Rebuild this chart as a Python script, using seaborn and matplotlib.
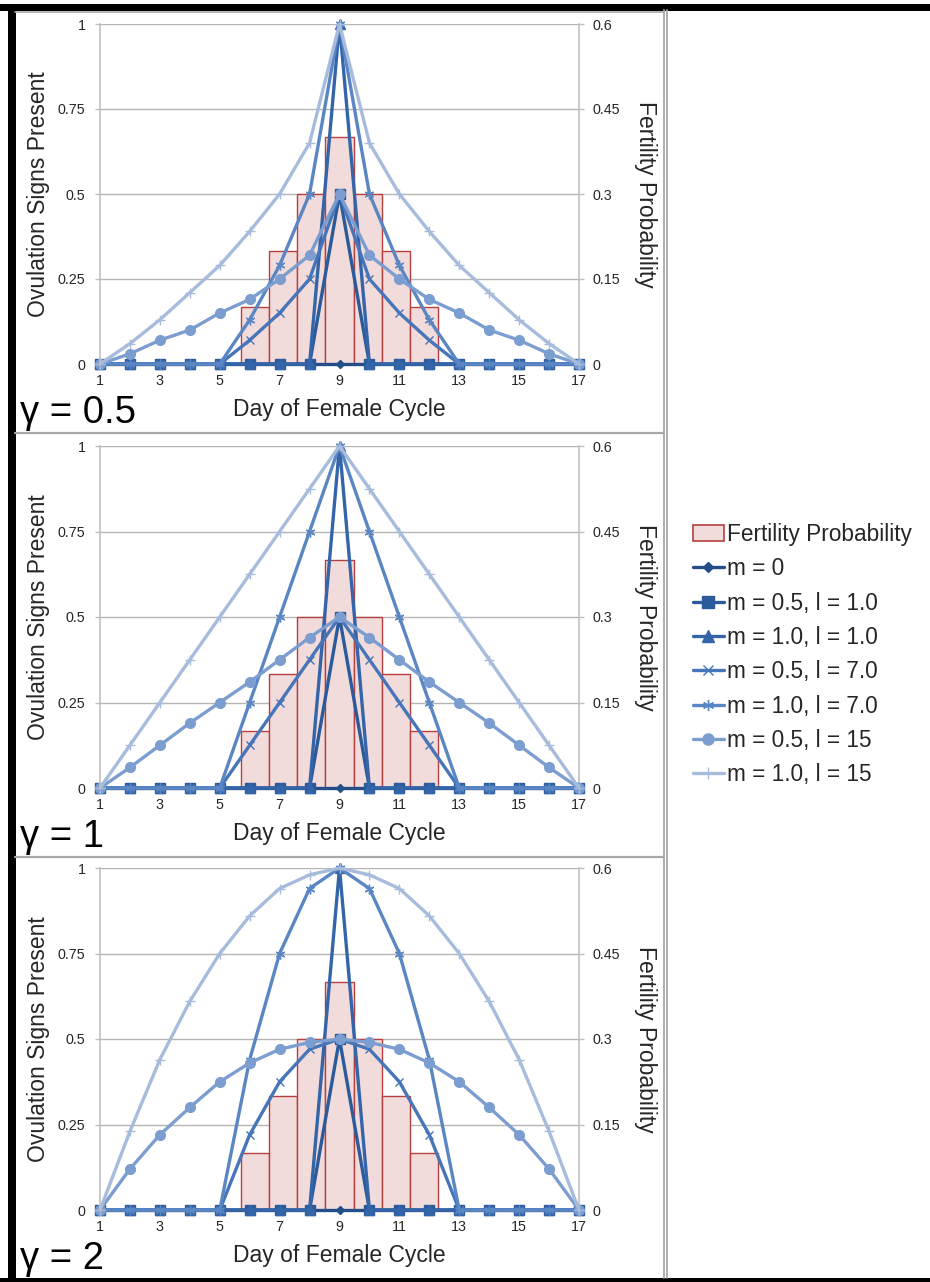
import matplotlib
matplotlib.use("Agg")
import matplotlib.pyplot as plt
import seaborn as sns
from matplotlib.patches import Rectangle, Patch
from matplotlib.lines import Line2D

# ---------------- data ----------------
days = [1, 2, 3, 4, 5, 6, 7, 8, 9, 10, 11, 12, 13, 14, 15, 16, 17]
fertility = [0, 0, 0, 0, 0, 0.1, 0.2, 0.3, 0.4, 0.3, 0.2, 0.1, 0, 0, 0, 0, 0]

series_labels = ["m = 0", "m = 0.5, l = 1.0", "m = 1.0, l = 1.0",
                 "m = 0.5, l = 7.0", "m = 1.0, l = 7.0",
                 "m = 0.5, l = 15", "m = 1.0, l = 15"]
gamma_labels = ["γ = 0.5", "γ = 1", "γ = 2"]

m0 = [0, 0, 0, 0, 0, 0, 0, 0, 0, 0, 0, 0, 0, 0, 0, 0, 0]
m05_l1 = [0, 0, 0, 0, 0, 0, 0, 0, 0.5, 0, 0, 0, 0, 0, 0, 0, 0]
m10_l1 = [0, 0, 0, 0, 0, 0, 0, 0, 1.0, 0, 0, 0, 0, 0, 0, 0, 0]

# gamma = 0.5
g05_m05_l7 = [0, 0, 0, 0, 0, 0.07, 0.15, 0.25, 0.5, 0.25, 0.15, 0.07, 0, 0, 0, 0, 0]
g05_m10_l7 = [0, 0, 0, 0, 0, 0.13, 0.29, 0.5, 1.0, 0.5, 0.29, 0.13, 0, 0, 0, 0, 0]
g05_m05_l15 = [0, 0.03, 0.07, 0.10, 0.15, 0.19, 0.25, 0.32, 0.5, 0.32, 0.25, 0.19, 0.15, 0.10, 0.07, 0.03, 0]
g05_m10_l15 = [0, 0.06, 0.13, 0.21, 0.29, 0.39, 0.5, 0.65, 1.0, 0.65, 0.5, 0.39, 0.29, 0.21, 0.13, 0.06, 0]

# gamma = 1
g1_m05_l7 = [0, 0, 0, 0, 0, 0.125, 0.25, 0.375, 0.5, 0.375, 0.25, 0.125, 0, 0, 0, 0, 0]
g1_m10_l7 = [0, 0, 0, 0, 0, 0.25, 0.5, 0.75, 1.0, 0.75, 0.5, 0.25, 0, 0, 0, 0, 0]
g1_m05_l15 = [0, 0.06, 0.125, 0.19, 0.25, 0.31, 0.375, 0.44, 0.5, 0.44, 0.375, 0.31, 0.25, 0.19, 0.125, 0.06, 0]
g1_m10_l15 = [0, 0.125, 0.25, 0.375, 0.5, 0.625, 0.75, 0.875, 1.0, 0.875, 0.75, 0.625, 0.5, 0.375, 0.25, 0.125, 0]

# gamma = 2
g2_m05_l7 = [0, 0, 0, 0, 0, 0.22, 0.375, 0.47, 0.5, 0.47, 0.375, 0.22, 0, 0, 0, 0, 0]
g2_m10_l7 = [0, 0, 0, 0, 0, 0.44, 0.75, 0.94, 1.0, 0.94, 0.75, 0.44, 0, 0, 0, 0, 0]
g2_m05_l15 = [0, 0.12, 0.22, 0.30, 0.375, 0.43, 0.47, 0.49, 0.5, 0.49, 0.47, 0.43, 0.375, 0.30, 0.22, 0.12, 0]
g2_m10_l15 = [0, 0.23, 0.44, 0.61, 0.75, 0.86, 0.94, 0.98, 1.0, 0.98, 0.94, 0.86, 0.75, 0.61, 0.44, 0.23, 0]

panels = [
    [m0, m05_l1, m10_l1, g05_m05_l7, g05_m10_l7, g05_m05_l15, g05_m10_l15],
    [m0, m05_l1, m10_l1, g1_m05_l7, g1_m10_l7, g1_m05_l15, g1_m10_l15],
    [m0, m05_l1, m10_l1, g2_m05_l7, g2_m10_l7, g2_m05_l15, g2_m10_l15],
]

# ---------------- styles ----------------
colors = ["#244e88", "#2b5b9b", "#3465a8", "#4676b9", "#5a86c4", "#7b9dd0", "#a7bcdc"]
markers = ["D", "s", "^", "x", (6, 2, 0), "o", "+"]
msizes = [4.5, 7, 7, 6, 7, 7, 7]

sns.set_style("white")
plt.rcParams["font.family"] = ["Liberation Sans", "DejaVu Sans"]

W, H = 930, 1282
fig = plt.figure(figsize=(W / 100, H / 100), dpi=100)

def fx(px):
    return px / W

def fy(py):
    return 1 - py / H

left_px, right_px = 100, 579
tops = [24, 446, 868]
bottoms = [364, 788, 1210]
grid_c = "#b5b5b5"
spine_c = "#c0c0c0"
txt_c = "#262626"
tick_fs = 10.3

for i, (series, glabel) in enumerate(zip(panels, gamma_labels)):
    hgt = bottoms[i] - tops[i]
    rect = [fx(left_px), fy(bottoms[i]), fx(right_px - left_px), hgt / H]

    # bar axes (secondary, fertility probability)
    axb = fig.add_axes(rect)
    axb.set_facecolor("none")
    sns.barplot(x=days, y=fertility, ax=axb, width=1.0, color="#f2dbdb",
                edgecolor="#b5403d", linewidth=1.0, saturation=1, errorbar=None,
                zorder=2)
    axb.set_xlim(-0.5, 16.5)
    axb.set_ylim(0, 0.6)
    axb.set_yticks([0, 0.15, 0.3, 0.45, 0.6])
    axb.set_yticklabels(["0", "0.15", "0.3", "0.45", "0.6"])
    axb.yaxis.tick_right()
    axb.yaxis.set_label_position("right")
    axb.set_xticks([])
    axb.set_xlabel("")
    axb.set_axisbelow(True)
    axb.grid(axis="y", color=grid_c, linewidth=1.0)
    axb.grid(axis="x", visible=False)
    for s in ["top", "bottom", "left"]:
        axb.spines[s].set_visible(False)
    axb.spines["right"].set_color(spine_c)
    axb.spines["right"].set_linewidth(1.2)
    axb.tick_params(axis="y", right=True, left=False, length=3.5, width=1,
                    color=spine_c, pad=6, labelsize=tick_fs, labelcolor=txt_c)
    axb.set_ylabel("Fertility Probability", rotation=270, fontsize=16.5,
                   color=txt_c, va="center", ha="center")
    axb.yaxis.set_label_coords((645 - left_px) / (right_px - left_px), 0.5)

    # line axes (primary, ovulation signs)
    axl = fig.add_axes(rect, zorder=3)
    axl.set_facecolor("none")
    for vals, lab, c, mk, ms in zip(series, series_labels, colors, markers, msizes):
        sns.lineplot(x=days, y=vals, ax=axl, color=c, marker=mk, markersize=ms,
                     markeredgecolor=c, markerfacecolor=c, markeredgewidth=1.0,
                     linewidth=2.4, label=lab, clip_on=False, legend=False)
    axl.set_xlim(1, 17)
    axl.set_ylim(0, 1)
    axl.set_xticks([1, 3, 5, 7, 9, 11, 13, 15, 17])
    axl.set_yticks([0, 0.25, 0.5, 0.75, 1])
    axl.set_yticklabels(["0", "0.25", "0.5", "0.75", "1"])
    for s in ["top", "bottom", "right"]:
        axl.spines[s].set_visible(False)
    axl.spines["left"].set_color(spine_c)
    axl.spines["left"].set_linewidth(1.2)
    axl.tick_params(axis="y", left=True, length=3.5, width=1, color=spine_c,
                    pad=7, labelsize=tick_fs, labelcolor=txt_c)
    axl.tick_params(axis="x", bottom=False, length=0, pad=7, labelsize=tick_fs,
                    labelcolor=txt_c)
    axl.grid(False)
    axl.set_xlabel("Day of Female Cycle", fontsize=16.5, color=txt_c)
    axl.xaxis.set_label_coords(0.5, -34 / hgt)
    axl.set_ylabel("Ovulation Signs Present", fontsize=16.5, color=txt_c,
                   va="center", ha="center")
    axl.yaxis.set_label_coords((38 - left_px) / (right_px - left_px), 0.5)

    # gamma annotation
    fig.text(fx(20), fy(bottoms[i] + 59), glabel, fontsize=27.5, color="black",
             ha="left", va="baseline")

# ---------------- legend ----------------
bar_handle = Patch(facecolor="#f2dbdb", edgecolor="#b5403d", linewidth=1.2)
leg_handles = [bar_handle]
for c, mk, ms in zip(colors, markers, msizes):
    leg_handles.append(Line2D([], [], color=c, marker=mk, markersize=ms + 1,
                              markeredgecolor=c, markerfacecolor=c,
                              markeredgewidth=1.0, linewidth=2.4))
leg_labels = ["Fertility Probability"] + series_labels
fig.legend(leg_handles, leg_labels, loc="upper left",
           bbox_to_anchor=(fx(693), fy(523)), frameon=False, fontsize=16.3,
           handlelength=1.35, handletextpad=0.15, labelspacing=0.5,
           borderpad=0, borderaxespad=0, labelcolor=txt_c)

# ---------------- frame decorations ----------------
sep_c = "#a8a8a8"
for yy in [433, 857]:
    fig.add_artist(Line2D([fx(15), fx(664)], [fy(yy), fy(yy)], color=sep_c, lw=1.6))
fig.add_artist(Line2D([fx(15), fx(664)], [fy(11.5), fy(11.5)], color=sep_c, lw=1.2))
for xx in [663.5, 667]:
    fig.add_artist(Line2D([fx(xx), fx(xx)], [fy(10), fy(1278)], color=sep_c, lw=1.3))
# thick black border
fig.add_artist(Rectangle((fx(0), fy(10.5)), 1, 6.5 / H, transform=fig.transFigure,
                         facecolor="black", edgecolor="none"))
fig.add_artist(Rectangle((fx(8), fy(1282)), 7.5 / W, (1282 - 4) / H,
                         transform=fig.transFigure, facecolor="black", edgecolor="none"))
fig.add_artist(Rectangle((fx(0), fy(1282)), 1, 4 / H, transform=fig.transFigure,
                         facecolor="black", edgecolor="none"))

fig.savefig("out.png", dpi=100)
